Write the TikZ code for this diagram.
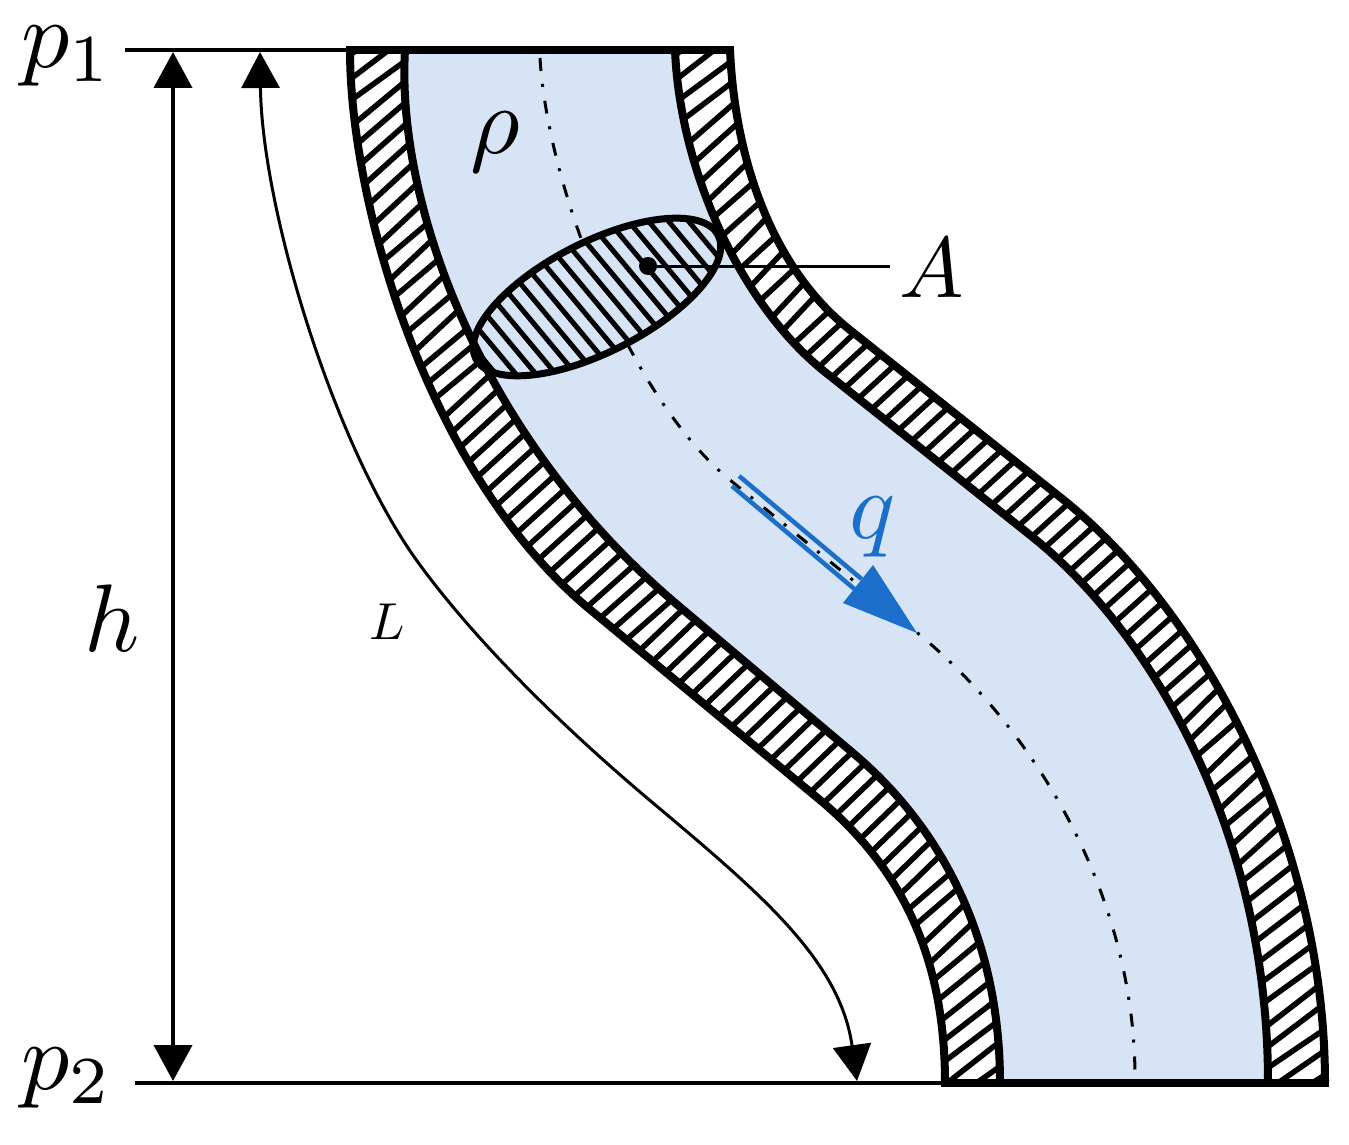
\documentclass[tikz,border=0pt]{standalone}
\usetikzlibrary{arrows.meta,calc,decorations.markings}
\definecolor{fluid}{HTML}{D6E4F5}
\definecolor{qblue}{HTML}{1B6FCB}
% wall edges, as path pieces
\def\LOf{.. controls (350,200) and (425,470) .. (587,607) -- (820,800) .. controls (910,875) and (945,970) .. (945,1083)}
\def\LIf{.. controls (396,200) and (478,438) .. (680,607) -- (853,753) .. controls (950,835) and (1000,950) .. (1000,1083)}
\def\LIb{.. controls (1000,950) and (950,835) .. (853,753) -- (680,607) .. controls (478,438) and (396,200) .. (405,50)}
\def\RIf{.. controls (680,170) and (740,304) .. (825,372) -- (1030,535) .. controls (1150,630) and (1268,830) .. (1268,1083)}
\def\ROf{.. controls (735,160) and (772,268) .. (850,330) -- (1060,497) .. controls (1210,616) and (1325,850) .. (1325,1083)}
\def\ROb{.. controls (1325,850) and (1210,616) .. (1060,497) -- (850,330) .. controls (772,268) and (735,160) .. (730,50)}
\def\CLf{(540,58) .. controls (548,190) and (630,398) .. (730,480) -- (920,635) .. controls (1040,735) and (1135,900) .. (1135,1078)}
\tikzset{
  x=1pt,y=-1pt,
  wall/.style={line width=8pt,black,line join=miter},
  rule/.style={line width=4pt,black},
  thinl/.style={line width=3pt,black},
  headtip/.tip={Triangle[length=36pt,width=38pt]},
  lbl/.style={inner sep=0pt,scale=#1},
  center line/.style={line width=3pt,dash pattern=on 13pt off 13pt on 3pt off 14pt},
  edgemarks/.style={decorate,decoration={markings,
    mark=between positions 0 and 1 step 0.0025 with
      {\coordinate (#1\pgfkeysvalueof{/pgf/decoration/mark info/sequence number});}}}
}
% stripes between two marked edges; spacing tightens along the straight part
\newcommand\hatchwall[4]{%
  \def\kk{14}%
  \loop
    \pgfmathsetmacro\tfr{\kk/400}%
    \pgfmathsetmacro\wgt{min(1,max(0,(#3-\tfr)/(#3-.045))+max(0,(\tfr-#4)/(.955-#4)))}%
    \pgfmathtruncatemacro\ki{round(\kk)}%
    \pgfmathtruncatemacro\kj{max(1,round(\kk-11.5))}%
    \draw[line width=5.5pt] (#1\ki) -- (#2\kj);%
    \pgfmathsetmacro\kk{\kk+(17+5*\wgt)/3.4}%
    \pgfmathtruncatemacro\cont{\kk<395 ? 1 : 0}%
  \ifnum\cont=1 \repeat
}
\begin{document}
\begin{tikzpicture}
\useasboundingbox (0,0) rectangle (1349,1145);
% fluid
\fill[fluid] (405,50) -- (675,50) \RIf -- (1000,1083) \LIb -- cycle;
% marked edges for the hatching
\path[edgemarks=lo] (350,-10) -- (350,50) \LOf -- (945,1143);
\path[edgemarks=li] (405,-10) -- (405,50) \LIf -- (1000,1143);
\path[edgemarks=ri] (675,-10) -- (675,50) \RIf -- (1268,1143);
\path[edgemarks=ro] (730,-10) -- (730,50) \ROf -- (1325,1143);
\begin{scope}
\clip (350,50) \LOf -- (1000,1083) \LIb -- cycle;
\hatchwall{lo}{li}{.33}{.78}
\end{scope}
\begin{scope}
\clip (675,50) \RIf -- (1325,1083) \ROb -- cycle;
\hatchwall{ri}{ro}{.30}{.62}
\end{scope}
% named points
\coordinate (p1l) at (125,50);
\coordinate (p1r) at (350,50);
\coordinate (p2l) at (135,1083);
\coordinate (p2r) at (945,1083);
\coordinate (ht) at (173,52);
\coordinate (hb) at (173,1081);
\coordinate (Lt) at (260,52);
\coordinate (Lb) at (857,1081);
\coordinate (Aend) at (890,266);
\coordinate (qa) at (735.5,481);
\coordinate (qb) at (858,584);
\coordinate (qt) at (917,633);
% centre line
\draw[center line] \CLf;
% ellipse section
\begin{scope}
\clip (597,297) ellipse[x radius=136,y radius=55,rotate=27];
\fill[fluid] (450,200) rectangle (750,400);
\foreach \c in {-629,-605,...,-197} \draw[line width=5pt] (450,540+\c) -- (750,900+\c);
\end{scope}
\draw[line width=7pt] (597,297) ellipse[x radius=136,y radius=55,rotate=27];
% walls
\draw[wall] (350,50) \LOf;
\draw[wall] (1000,1083) \LIb;
\draw[wall] (675,50) \RIf;
\draw[wall] (1325,1083) \ROb;
\draw[wall] (346,50) -- (734,50);
\draw[wall] (941,1083) -- (1329,1083);
% dimension lines
\draw[rule] (p1l) -- (p1r);
\draw[rule] (p2l) -- (p2r);
\draw[rule,{headtip}-{headtip}] (ht) -- (hb);
\draw[thinl,{headtip}-{headtip}] (Lt) .. controls (262,210) and (335,450) .. (420,565)
   .. controls (475,640) and (560,725) .. (653,803)
   .. controls (760,893) and (840,960) .. (Lb);
% A leader
\node[circle,fill=black,inner sep=0pt,minimum size=18pt] (Adot) at (648,266) {};
\draw[thinl] (Adot.center) -- (Aend);
% q arrow
\draw[line width=4.5pt,qblue] ($(qa)+(3.6,-5)$) -- ($(qb)+(3.6,-5)$);
\draw[line width=4.5pt,qblue] ($(qa)+(-3.6,5)$) -- ($(qb)+(-3.6,5)$);
\fill[qblue] (qt) -- (873,565) -- (843,603) -- cycle;
% labels
\node[lbl=9.6] (np1) at (67,56) {$p_1$};
\node[lbl=9.6] (np2) at (67,1078) {$p_2$};
\node[lbl=9.6] (nh) at (112,618) {$h$};
\node[lbl=5.2] (nL) at (387,622) {$L$};
\node[lbl=9.6] (nrho) at (495,142) {$\rho$};
\node[lbl=8.6] (nA) at (932,268) {$A$};
\node[lbl=9.6,text=qblue] (nq) at (873,527) {$q$};
\end{tikzpicture}
\end{document}
